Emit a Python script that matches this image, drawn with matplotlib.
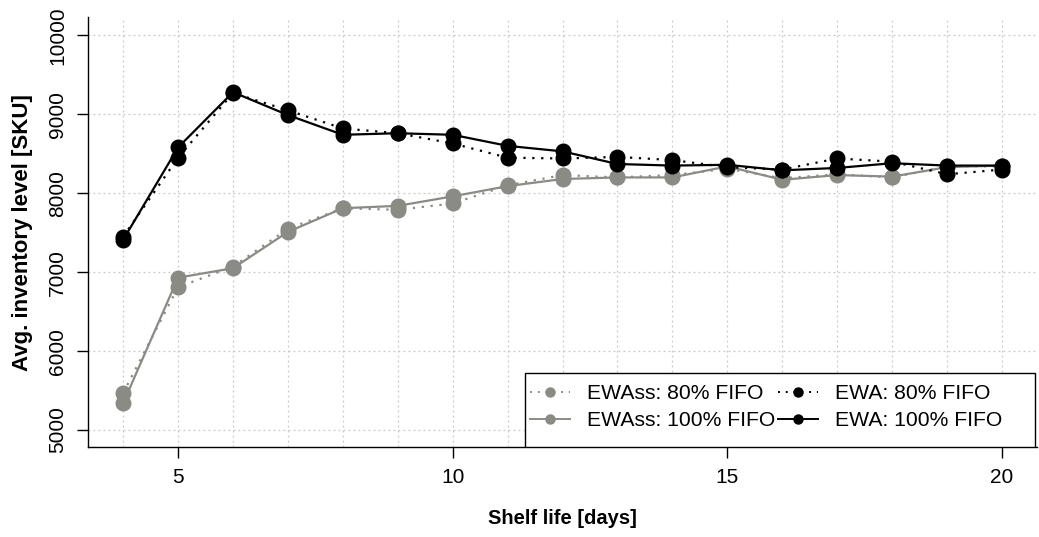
import matplotlib.pyplot as plt
from matplotlib.lines import Line2D
from matplotlib.patches import Rectangle

plt.rcParams['font.family'] = ['Liberation Sans', 'DejaVu Sans']

# shelf life in days
shelf_life = list(range(4, 21))

# average inventory level [SKU]
ewass_80 = [5470, 6810, 7070, 7550, 7810, 7790, 7870, 8100, 8230, 8200, 8230,
            8310, 8190, 8240, 8200, 8340, 8340]
ewass_100 = [5340, 6930, 7050, 7510, 7810, 7840, 7960, 8090, 8180, 8200, 8200,
             8340, 8170, 8230, 8210, 8330, 8350]
ewa_80 = [7450, 8450, 9270, 9050, 8820, 8760, 8630, 8450, 8440, 8460, 8420,
          8330, 8300, 8440, 8400, 8240, 8300]
ewa_100 = [7410, 8580, 9280, 8990, 8740, 8760, 8740, 8600, 8530, 8370, 8350,
           8360, 8290, 8320, 8380, 8350, 8350]

x_ticks = [5, 10, 15, 20]
y_ticks = [5000, 6000, 7000, 8000, 9000, 10000]

grey = '#8b8b85'

fig = plt.figure(figsize=(10.39, 5.37), dpi=100)
ax = fig.add_axes([0.0847, 0.1676, 0.9135, 0.8004])

# grid: every day vertically, every 1000 horizontally
for d in shelf_life:
    ax.axvline(d, color='#c8c8c8', lw=0.9, ls=(0, (1.5, 2.5)), zorder=0)
for v in y_ticks:
    ax.axhline(v, color='#c8c8c8', lw=0.9, ls=(0, (1.5, 2.5)), zorder=0)

style = dict(marker='o', markersize=10.5, lw=1.6)
ax.plot(shelf_life, ewass_80, color=grey, ls=(0, (1, 3)), **style)
ax.plot(shelf_life, ewass_100, color=grey, ls='-', **style)
ax.plot(shelf_life, ewa_80, color='black', ls=(0, (1, 3)), **style)
ax.plot(shelf_life, ewa_100, color='black', ls='-', **style)

ax.set_xlim(3.36, 20.64)
ax.set_ylim(4785, 10230)
ax.set_xticks(x_ticks)
ax.set_yticks(y_ticks)
ax.set_yticklabels([str(v) for v in y_ticks], rotation=90, va='center')
ax.tick_params(labelsize=15, length=8, width=1, direction='out', pad=7)

for side in ['top', 'right']:
    ax.spines[side].set_visible(False)
for side in ['left', 'bottom']:
    ax.spines[side].set_linewidth(1)

ax.set_xlabel('Shelf life [days]', fontsize=14.5, fontweight='bold', labelpad=16)
ax.set_ylabel('Avg. inventory level [SKU]', fontsize=16, fontweight='bold', labelpad=11)

# legend box drawn separately (R style: wide right margin)
ax.add_patch(Rectangle((0.4605, 0.0), 0.537, 0.172, transform=ax.transAxes,
                       facecolor='white', edgecolor='black', lw=1, zorder=5))

handles = [
    Line2D([], [], color=grey, ls=(0, (1, 3)), marker='o', markersize=6.5, lw=1.4),
    Line2D([], [], color=grey, ls='-', marker='o', markersize=6.5, lw=1.4),
    Line2D([], [], color='black', ls=(0, (1, 3)), marker='o', markersize=6.5, lw=1.4),
    Line2D([], [], color='black', ls='-', marker='o', markersize=6.5, lw=1.4),
]
labels = ['EWAss: 80% FIFO', 'EWAss: 100% FIFO', 'EWA: 80% FIFO', 'EWA: 100% FIFO']
leg = ax.legend(handles, labels, loc='upper left', bbox_to_anchor=(0.4655, 0.146),
                ncol=2, fontsize=15.2, frameon=False,
                borderaxespad=0, borderpad=0, handlelength=1.9, handletextpad=0.8,
                columnspacing=0.15, labelspacing=0.38)
leg.set_zorder(6)

fig.savefig('out.png', dpi=100)
